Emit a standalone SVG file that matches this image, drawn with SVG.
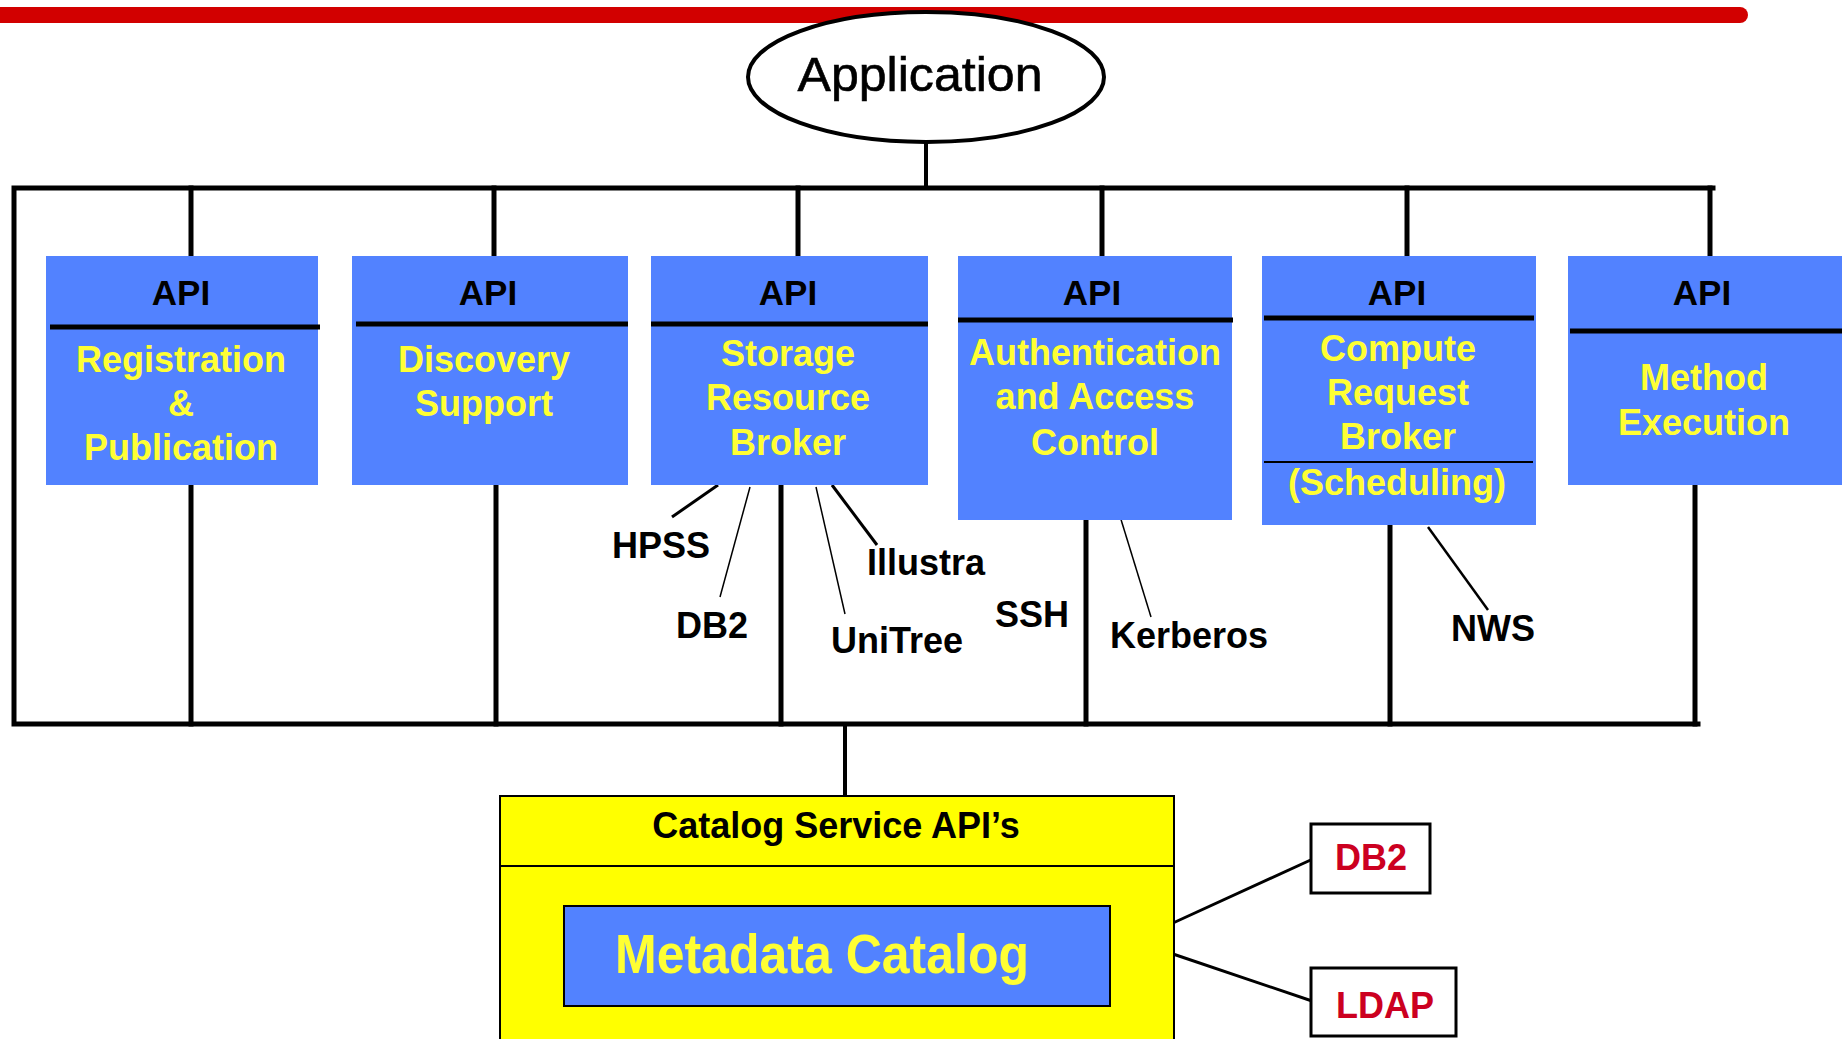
<svg xmlns="http://www.w3.org/2000/svg" width="1846" height="1039" viewBox="0 0 1846 1039">
  <style>
    .bus { stroke: #000; stroke-width: 5; fill: none; stroke-linecap: square; }
    .lead { stroke: #000; fill: none; }
    .svc { fill: #5282ff; }
    .div { stroke: #000; stroke-width: 5; }
    .api { font-family: "Liberation Sans", Arial, sans-serif; font-weight: bold; font-size: 35px; fill: #000; text-anchor: middle; }
    .name { font-family: "Liberation Sans", Arial, sans-serif; font-weight: bold; font-size: 36px; fill: #ffff33; text-anchor: middle; }
    .label { font-family: "Liberation Sans", Arial, sans-serif; font-weight: bold; font-size: 36px; fill: #000; text-anchor: middle; }
    .store { font-family: "Liberation Sans", Arial, sans-serif; font-weight: bold; font-size: 36px; fill: #cc0020; text-anchor: middle; }
  </style>

  <rect width="1846" height="1039" fill="#fff"/>

  <!-- title rule -->
  <rect x="-20" y="7" width="1768" height="16" rx="8" fill="#d20000"/>

  <!-- connectors -->
  <g id="connectors">
    <!-- application to top bus -->
    <line class="bus" x1="926" y1="143" x2="926" y2="188" style="stroke-width:4"/>
    <!-- frame: top bus, left side, bottom bus -->
    <path class="bus" d="M1713 188 H14 V724 H1698"/>
    <!-- drops from top bus to each API -->
    <line class="bus" x1="191" y1="188" x2="191" y2="256"/>
    <line class="bus" x1="494" y1="188" x2="494" y2="256"/>
    <line class="bus" x1="798" y1="188" x2="798" y2="256"/>
    <line class="bus" x1="1102" y1="188" x2="1102" y2="256"/>
    <line class="bus" x1="1407" y1="188" x2="1407" y2="256"/>
    <line class="bus" x1="1710" y1="188" x2="1710" y2="256"/>
    <!-- risers from each service to bottom bus -->
    <line class="bus" x1="191" y1="485" x2="191" y2="724"/>
    <line class="bus" x1="496" y1="485" x2="496" y2="724"/>
    <line class="bus" x1="781" y1="485" x2="781" y2="724"/>
    <line class="bus" x1="1086" y1="520" x2="1086" y2="724"/>
    <line class="bus" x1="1390" y1="525" x2="1390" y2="724"/>
    <line class="bus" x1="1695" y1="485" x2="1695" y2="724"/>
    <!-- bottom bus to catalog -->
    <line class="bus" x1="845" y1="724" x2="845" y2="796" style="stroke-width:4"/>
    <!-- resource leaders -->
    <line class="lead" x1="718" y1="485" x2="672" y2="517" stroke-width="3"/>
    <line class="lead" x1="750" y1="487" x2="720" y2="597" stroke-width="1.5"/>
    <line class="lead" x1="816" y1="487" x2="845" y2="614" stroke-width="1.5"/>
    <line class="lead" x1="832" y1="485" x2="877" y2="545" stroke-width="3"/>
    <line class="lead" x1="1119" y1="513" x2="1151" y2="617" stroke-width="1.5"/>
    <line class="lead" x1="1428" y1="527" x2="1488" y2="610" stroke-width="2.5"/>
    <!-- catalog to back-end stores -->
    <line class="lead" x1="1173" y1="923" x2="1315" y2="858" stroke-width="3"/>
    <line class="lead" x1="1173" y1="954" x2="1315" y2="1002" stroke-width="3"/>
  </g>

  <g id="application">
    <ellipse cx="926" cy="77" rx="178" ry="65" fill="#fff" stroke="#000" stroke-width="4"/>
    <text x="920" y="91" font-family="Liberation Sans, Arial, sans-serif" font-size="48" stroke="#000" stroke-width="0.6" text-anchor="middle" textLength="245" lengthAdjust="spacingAndGlyphs">Application</text>
  </g>

  <g id="registration">
    <rect class="svc" x="46" y="256" width="272" height="229"/>
    <line class="div" x1="50" y1="327" x2="320" y2="327"/>
    <text class="api" x="181" y="305">API</text>
    <text class="name" x="181" y="372">Registration</text>
    <text class="name" x="181" y="416">&amp;</text>
    <text class="name" x="181" y="460">Publication</text>
  </g>

  <g id="discovery">
    <rect class="svc" x="352" y="256" width="276" height="229"/>
    <line class="div" x1="356" y1="324" x2="628" y2="324"/>
    <text class="api" x="488" y="305">API</text>
    <text class="name" x="484" y="372">Discovery</text>
    <text class="name" x="484" y="416">Support</text>
  </g>

  <g id="storage-broker">
    <rect class="svc" x="651" y="256" width="277" height="229"/>
    <line class="div" x1="651" y1="324" x2="928" y2="324"/>
    <text class="api" x="788" y="305">API</text>
    <text class="name" x="788" y="366">Storage</text>
    <text class="name" x="788" y="410">Resource</text>
    <text class="name" x="788" y="455">Broker</text>
  </g>

  <g id="auth">
    <rect class="svc" x="958" y="256" width="274" height="264"/>
    <line class="div" x1="958" y1="320" x2="1233" y2="320"/>
    <text class="api" x="1092" y="305">API</text>
    <text class="name" x="1095" y="365">Authentication</text>
    <text class="name" x="1095" y="409">and Access</text>
    <text class="name" x="1095" y="455">Control</text>
  </g>

  <g id="compute-broker">
    <rect class="svc" x="1262" y="256" width="274" height="269"/>
    <line class="div" x1="1264" y1="318" x2="1534" y2="318"/>
    <line x1="1264" y1="462" x2="1533" y2="462" stroke="#000" stroke-width="2"/>
    <text class="api" x="1397" y="305">API</text>
    <text class="name" x="1398" y="361">Compute</text>
    <text class="name" x="1398" y="405">Request</text>
    <text class="name" x="1398" y="449">Broker</text>
    <text class="name" x="1397" y="495">(Scheduling)</text>
  </g>

  <g id="method">
    <rect class="svc" x="1568" y="256" width="274" height="229"/>
    <line class="div" x1="1570" y1="331" x2="1842" y2="331"/>
    <text class="api" x="1702" y="305">API</text>
    <text class="name" x="1704" y="390">Method</text>
    <text class="name" x="1704" y="435">Execution</text>
  </g>

  <!-- resource labels -->
  <g id="resource-labels">
    <text class="label" x="661" y="558">HPSS</text>
    <text class="label" x="712" y="638">DB2</text>
    <text class="label" x="926" y="575">Illustra</text>
    <text class="label" x="897" y="653">UniTree</text>
    <text class="label" x="1032" y="627">SSH</text>
    <text class="label" x="1189" y="648">Kerberos</text>
    <text class="label" x="1493" y="641">NWS</text>
  </g>

  <g id="catalog">
    <rect x="500" y="796" width="674" height="260" fill="#ffff00" stroke="#000" stroke-width="2"/>
    <line x1="500" y1="866" x2="1174" y2="866" stroke="#000" stroke-width="2"/>
    <text class="label" x="836" y="838">Catalog Service API’s</text>
    <rect x="564" y="906" width="546" height="100" fill="#5282ff" stroke="#000" stroke-width="2"/>
    <text x="822" y="973" font-family="Liberation Sans, Arial, sans-serif" font-weight="bold" font-size="55" fill="#ffff33" text-anchor="middle" textLength="414" lengthAdjust="spacingAndGlyphs">Metadata Catalog</text>
  </g>

  <g id="db2">
    <rect x="1311" y="824" width="119" height="69" fill="#fff" stroke="#000" stroke-width="3"/>
    <text class="store" x="1371" y="870">DB2</text>
  </g>

  <g id="ldap">
    <rect x="1311" y="968" width="145" height="68" fill="#fff" stroke="#000" stroke-width="3"/>
    <text class="store" x="1385" y="1018">LDAP</text>
  </g>
</svg>
